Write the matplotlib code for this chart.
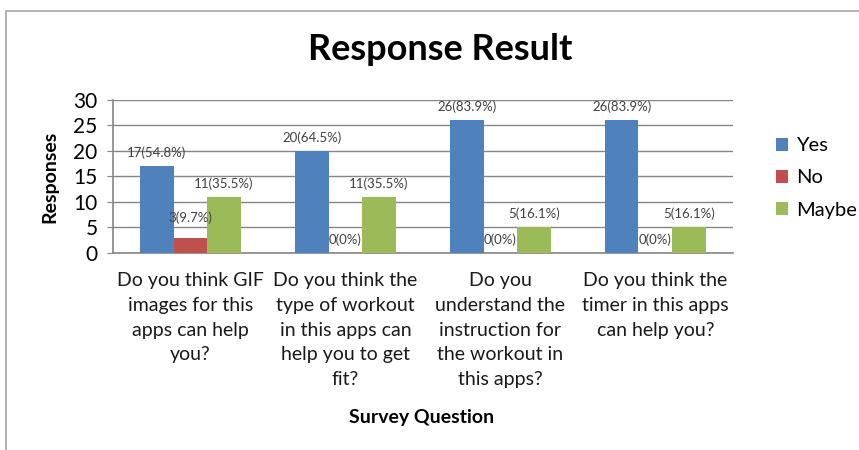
import matplotlib.pyplot as plt
from matplotlib.patches import Rectangle
import numpy as np

plt.rcParams['font.family'] = ['Lato', 'DejaVu Sans']

questions = ["Do you think GIF\nimages for this\napps can help\nyou?",
             "Do you think the\ntype of workout\nin this apps can\nhelp you to get\nfit?",
             "Do you\nunderstand the\ninstruction for\nthe workout in\nthis apps?",
             "Do you think the\ntimer in this apps\ncan help you?"]
yes = [17, 20, 26, 26]
no = [3, 0, 0, 0]
maybe = [11, 11, 5, 5]
yes_lbl = ["17(54.8%)", "20(64.5%)", "26(83.9%)", "26(83.9%)"]
no_lbl = ["3(9.7%)", "0(0%)", "0(0%)", "0(0%)"]
maybe_lbl = ["11(35.5%)", "11(35.5%)", "5(16.1%)", "5(16.1%)"]

colors = ['#4F81BD', '#C0504D', '#9BBB59']

fig = plt.figure(figsize=(8.59, 4.5), dpi=100)
ax = fig.add_axes([0.1315, 0.438, 0.7215, 0.34])

# outer chart border
fig.patches.append(Rectangle((6/859, -0.1), 1.2, 1 - 11/450 + 0.1, transform=fig.transFigure,
                             fill=False, edgecolor='#A6A6A6', linewidth=1.2))

x = np.arange(len(questions))
w = 0.217
series = [(yes, yes_lbl, 'Yes'), (no, no_lbl, 'No'), (maybe, maybe_lbl, 'Maybe')]
for k, (vals, lbls, name) in enumerate(series):
    pos = x + (k - 1) * w
    ax.bar(pos, vals, width=w, color=colors[k], label=name, zorder=3)
    for p, v, t in zip(pos, vals, lbls):
        dy = 10 if (name == 'No' and v > 0) else 5
        ax.annotate(t, (p, v), xytext=(0, dy), textcoords='offset points',
                    ha='center', va='bottom', fontsize=9.5, color='#404040', zorder=4)

ax.set_xlim(-0.5, 3.5)
ax.set_ylim(0, 30)
ax.set_yticks(range(0, 31, 5))
ax.yaxis.grid(True, color='#868686', linewidth=1, zorder=0)
ax.set_xticks(x)
ax.set_xticklabels(questions, fontsize=14, linespacing=1.55, color='#1a1a1a')
ax.tick_params(axis='x', length=0, pad=14)
ax.tick_params(axis='y', labelsize=15, length=4, color='#868686', pad=7)
for s in ['top', 'right']:
    ax.spines[s].set_visible(False)
for s in ['left', 'bottom']:
    ax.spines[s].set_color('#868686')
    ax.spines[s].set_linewidth(1.2)

ax.set_ylabel('Responses', fontsize=14, fontweight='bold', labelpad=11)
fig.text(422/859, 1 - 417/450, 'Survey Question', fontsize=14, fontweight='bold',
         ha='center', va='center')
fig.text(440/859, 1 - 50/450, 'Response Result', fontsize=26, fontweight='bold',
         ha='center', va='center')

ax.legend(loc='center left', bbox_to_anchor=(1.04, 0.49), frameon=False, fontsize=14.5,
          handlelength=0.6, handleheight=0.6, handletextpad=0.4, labelspacing=0.75)

fig.savefig('out.png', dpi=100)
